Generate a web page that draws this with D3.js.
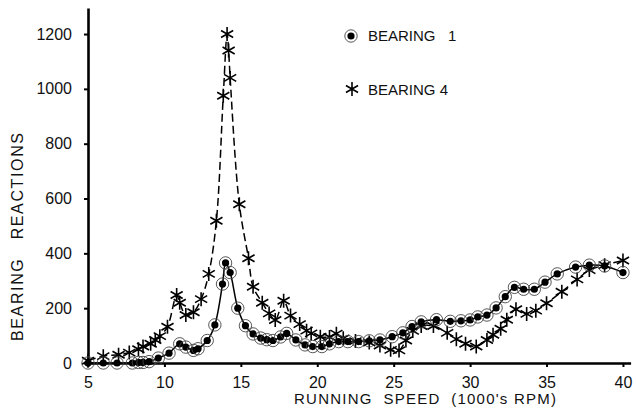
<!DOCTYPE html>
<html>
<head>
<meta charset="utf-8">
<script src="https://cdn.jsdelivr.net/npm/d3@7"></script>
<style>
  body { margin: 0; background: #fff; }
  text { font-family: "Liberation Sans", Arial, sans-serif; fill: #111; }
</style>
</head>
<body>
<script>
// chart size
const WIDTH  = 636;
const HEIGHT = 410;

// tick values
const xTicks = [5, 10, 15, 20, 25, 30, 35, 40];
const yTicks = [0, 200, 400, 600, 800, 1000, 1200];

// bearing 1 (circles, solid line)
const speed1 = [5.0, 6.0, 6.9, 7.9, 8.3, 8.6, 9.0, 9.6, 10.3, 11.0, 11.4, 11.9, 12.2, 12.8, 13.3, 13.8, 14.0, 14.3,
                14.8, 15.3, 15.8, 16.3, 16.7, 17.1, 17.6, 18.0, 18.6, 19.2, 19.7, 20.3, 20.8, 21.4, 22.0, 22.7,
                23.4, 24.1, 24.9, 25.6, 26.2, 26.8, 27.8, 28.7, 29.4, 30.0, 30.5, 31.1, 31.7, 32.3, 32.9, 33.5,
                34.2, 34.9, 35.7, 36.9, 37.8, 38.8, 40.0];
const bearing1 = [0, 0, 0, 0, 2, 2, 5, 18, 36, 70, 58, 46, 52, 82, 139, 288, 365, 330,
                  200, 136, 106, 91, 85, 82, 95, 108, 84, 66, 60, 60, 70, 78, 78, 78,
                  81, 84, 96, 110, 133, 150, 158, 152, 154, 157, 168, 175, 201, 242, 276, 269,
                  269, 295, 325, 350, 357, 354, 330];

// bearing 4 (stars, dashed line)
const speed4 = [5.0, 6.0, 7.0, 7.7, 8.3, 8.6, 9.1, 9.4, 9.7, 10.2, 10.8, 11.0, 11.4, 11.9, 12.4, 12.9, 13.4, 13.85,
                14.1, 14.2, 14.3, 14.9, 15.5, 15.8, 16.4, 16.85, 17.25, 17.8, 18.25, 18.85, 19.3, 19.6, 20.2,
                20.8, 21.25, 21.7, 22.5, 23.4, 24.1, 24.8, 25.35, 25.8, 26.25, 26.8, 27.6, 28.5, 29.1, 29.7,
                30.4, 31.1, 31.5, 32.0, 32.4, 33.0, 33.7, 34.3, 35.0, 36.0, 37.0, 37.8, 38.8, 40.0];
const bearing4 = [8, 25, 30, 38, 50, 60, 70, 84, 98, 132, 248, 220, 175, 185, 233, 325, 519, 975,
                  1200, 1140, 1040, 579, 382, 278, 220, 181, 157, 227, 173, 142, 118, 108, 96,
                  95, 107, 90, 80, 75, 64, 48, 46, 82, 117, 135, 135, 110, 87, 70,
                  60, 84, 103, 125, 158, 196, 179, 191, 218, 260, 305, 339, 357, 374];

const seriesNames = ['BEARING 1', 'BEARING 4'];

let svg = d3.select('body').append('svg')
              .attr('width', WIDTH)
              .attr('height', HEIGHT);

let x = d3.scaleLinear().domain([5, 40.5]).range([88, 630.6]);
let y = d3.scaleLinear().domain([0, 1295]).range([363, 8]);

// star marker: vertical stroke plus two diagonals
function starPath(cx, cy, r) {
    let p = '';
    [90, 30, 150].forEach(a => {
        let dx = r * Math.cos(a * Math.PI / 180), dy = r * Math.sin(a * Math.PI / 180);
        p += `M${cx - dx},${cy - dy}L${cx + dx},${cy + dy}`;
    });
    return p;
}

function drawCircle(g, cx, cy) {
    g.append('circle').attr('cx', cx).attr('cy', cy).attr('r', 6.2)
        .attr('fill', 'none').attr('stroke', '#444').attr('stroke-width', 0.9);
    g.append('circle').attr('cx', cx).attr('cy', cy).attr('r', 3.6).attr('fill', '#000');
}

function drawStar(g, cx, cy) {
    g.append('path').attr('d', starPath(cx, cy, 7))
        .attr('stroke', '#000').attr('stroke-width', 1.6).attr('fill', 'none');
}

// axes
let xAxis = svg.append('g').attr('transform', `translate(0,${y(0)})`)
    .call(d3.axisBottom(x).tickValues(xTicks).tickFormat(d3.format('d'))
        .tickSize(4).tickSizeOuter(0).tickPadding(10));
let yAxis = svg.append('g').attr('transform', `translate(${x(5)},0)`)
    .call(d3.axisLeft(y).tickValues(yTicks).tickFormat(d3.format('d'))
        .tickSize(4).tickSizeOuter(0).tickPadding(12));

[xAxis, yAxis].forEach(a => {
    a.select('.domain').attr('stroke', '#000').attr('stroke-width', 2.6);
    a.selectAll('.tick line').attr('stroke', '#000').attr('stroke-width', 2);
    a.selectAll('.tick text').attr('font-size', 16).attr('fill', '#111')
        .style('font-family', '"Liberation Sans", Arial, sans-serif');
});

// lines
let line = d3.line().x(d => x(d[0])).y(d => y(d[1])).curve(d3.curveCatmullRom.alpha(0.5));

let data1 = speed1.map((s, i) => [s, bearing1[i]]);
let data4 = speed4.map((s, i) => [s, bearing4[i]]);

svg.append('path').datum(data1).attr('d', line)
    .attr('fill', 'none').attr('stroke', '#000').attr('stroke-width', 1.5);
svg.append('path').datum(data4).attr('d', line)
    .attr('fill', 'none').attr('stroke', '#000').attr('stroke-width', 1.5)
    .attr('stroke-dasharray', '8,4');

let marks = svg.append('g');
data4.forEach(d => drawStar(marks, x(d[0]), y(d[1])));
data1.forEach(d => drawCircle(marks, x(d[0]), y(d[1])));

// legend
drawCircle(svg, 351, 36);
svg.append('text').attr('x', 368).attr('y', 41).attr('font-size', 15)
    .style('white-space', 'pre').text(seriesNames[0].replace(' ', '   '));
drawStar(svg, 352, 89);
svg.append('text').attr('x', 368).attr('y', 95).attr('font-size', 15)
    .style('white-space', 'pre').text(seriesNames[1]);

// axis titles
svg.append('text').attr('x', 425).attr('y', 404).attr('text-anchor', 'middle')
    .attr('font-size', 15).attr('textLength', 262).attr('lengthAdjust', 'spacing')
    .style('white-space', 'pre').text("RUNNING  SPEED  (1000's RPM)");

svg.append('text').attr('transform', 'translate(23,237) rotate(-90)').attr('text-anchor', 'middle')
    .attr('font-size', 16).attr('textLength', 208).attr('lengthAdjust', 'spacing')
    .style('white-space', 'pre').text('BEARING   REACTIONS');
</script>
</body>
</html>
